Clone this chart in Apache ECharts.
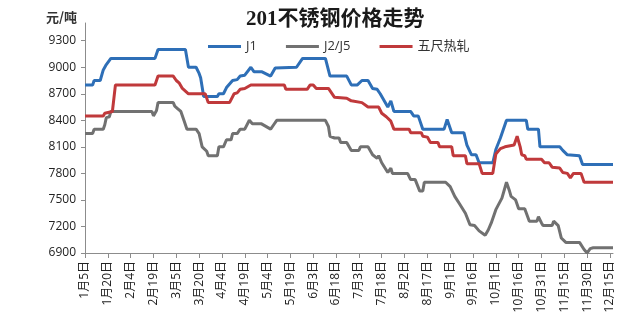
<!DOCTYPE html>
<html>
<head>
<meta charset="utf-8">
<script src="https://cdn.jsdelivr.net/npm/echarts@6/dist/echarts.min.js"></script>
<style>
  html, body { margin: 0; padding: 0; background: #fff; }
  #chart { width: 640px; height: 336px; }
</style>
</head>
<body>
<div id="chart"></div>
<script>
// x values are days counted from 1月5日 (leap year); ticks every 15 days
const tickLabels = ['1月5日', '1月20日', '2月4日', '2月19日', '3月5日', '3月20日', '4月4日', '4月19日',
  '5月4日', '5月19日', '6月3日', '6月18日', '7月3日', '7月18日', '8月2日', '8月17日',
  '9月1日', '9月16日', '10月1日', '10月16日', '10月31日', '11月15日', '11月30日', '12月15日'];
const yTicks = [6900, 7200, 7500, 7800, 8100, 8400, 8700, 9000, 9300];

// [day, 元/吨]
const j1 = [[0,8800],[5,8800],[6,8850],[10,8850],[12,8970],[14,9030],[17,9100],[46,9100],[48,9200],
  [66,9200],[68,9000],[73,9000],[75,8930],[76,8880],[78,8670],[87,8670],[88,8700],[91,8700],
  [93,8770],[97,8850],[100,8860],[102,8900],[105,8910],[109,9000],[111,8950],[116,8950],[122,8900],
  [125,8990],[126,9000],[139,9000],[143,9100],[158,9100],[161,8900],[172,8900],[175,8800],[179,8800],
  [182,8850],[186,8850],[189,8760],[192,8750],[194,8700],[199,8550],[201,8620],[203,8500],[214,8500],
  [216,8450],[219,8450],[222,8300],[236,8300],[238,8410],[241,8260],[249,8260],[251,8120],[254,8010],
  [257,8010],[259,7920],[268,7920],[270,8070],[273,8200],[277,8400],[290,8400],[291,8300],[298,8300],
  [299,8100],[312,8100],[314,8060],[317,8010],[325,8000],[327,7900],[347,7900]];

const j2j5 = [[0,8250],[5,8250],[6,8300],[12,8300],[13,8350],[14,8430],[16,8440],[17,8500],[44,8500],
  [45,8450],[47,8510],[48,8600],[58,8600],[59,8560],[61,8530],[63,8500],[65,8400],[67,8300],[73,8300],
  [75,8250],[77,8100],[80,8050],[81,8000],[87,8000],[88,8100],[91,8100],[93,8180],[96,8180],[97,8250],
  [100,8250],[102,8300],[105,8300],[108,8400],[110,8360],[116,8360],[122,8300],[124,8350],[126,8400],
  [158,8400],[160,8330],[161,8220],[164,8200],[167,8200],[168,8150],[172,8150],[175,8060],[180,8060],
  [181,8100],[186,8100],[189,8010],[192,7970],[193,8000],[195,7920],[199,7810],[201,7860],[202,7800],
  [212,7800],[214,7730],[217,7730],[220,7600],[222,7600],[223,7700],[237,7700],[240,7650],[243,7540],
  [246,7460],[250,7350],[253,7220],[256,7210],[259,7150],[263,7100],[265,7160],[267,7240],[270,7390],
  [274,7520],[277,7700],[279,7600],[280,7540],[283,7500],[285,7400],[289,7400],[292,7260],[297,7260],
  [298,7310],[300,7240],[301,7210],[307,7210],[308,7260],[311,7210],[313,7070],[316,7020],[325,7020],
  [328,6940],[330,6900],[332,6950],[334,6960],[347,6960]];

const hotRolled = [[0,8450],[12,8450],[13,8480],[14,8500],[18,8500],[20,8800],[46,8800],[48,8900],
  [58,8900],[60,8850],[62,8820],[64,8760],[68,8700],[79,8700],[81,8600],[95,8600],[98,8700],[100,8710],
  [102,8750],[105,8760],[109,8800],[131,8800],[132,8750],[146,8750],[148,8800],[150,8800],[152,8760],
  [160,8760],[164,8660],[172,8650],[175,8620],[182,8600],[186,8550],[193,8550],[195,8480],[198,8440],
  [201,8390],[203,8300],[213,8300],[214,8260],[221,8260],[222,8220],[225,8210],[227,8150],[232,8150],
  [233,8100],[241,8100],[242,8000],[250,8000],[251,7910],[259,7910],[261,7800],[268,7800],[270,8020],
  [273,8080],[276,8100],[282,8120],[284,8220],[286,8100],[287,8010],[289,8000],[290,7960],[300,7960],
  [302,7920],[305,7920],[307,7870],[312,7860],[314,7810],[317,7800],[319,7750],[321,7800],[326,7800],
  [328,7700],[347,7700]];

const chart = echarts.init(document.getElementById('chart'), null, { renderer: 'canvas' });
const axisColor = '#8c8c8c';
const labelFont = "'Open Sans', 'Noto Sans CJK SC', sans-serif";

chart.setOption({
  animation: false,
  backgroundColor: '#ffffff',
  title: [
    {
      text: '201不锈钢价格走势',
      left: 241,
      top: 4,
      textStyle: { fontSize: 21, fontWeight: 'bold', color: '#1a1a1a',
        fontFamily: "'Liberation Serif', 'Noto Sans CJK SC', serif" }
    },
    {
      text: '元/吨',
      left: 41,
      top: 6,
      textStyle: { fontSize: 13, fontWeight: 'bold', color: '#333', fontFamily: "'Noto Sans CJK SC', sans-serif" }
    }
  ],
  legend: {
    top: 35,
    left: 203,
    itemGap: 29,
    itemWidth: 33,
    itemHeight: 3,
    icon: 'rect',
    textStyle: { fontSize: 13, color: '#333', fontFamily: labelFont },
    data: ['J1', 'J2/J5', '五尺热轧']
  },
  grid: { left: 85, right: 27, top: 23, bottom: 83 },
  xAxis: {
    type: 'value',
    min: 0,
    max: 347,
    interval: 15,
    splitLine: { show: false },
    axisLine: { lineStyle: { color: axisColor, width: 1 } },
    axisTick: { show: true, length: 5, lineStyle: { color: axisColor },
      customValues: tickLabels.map((_, i) => i * 15) },
    axisLabel: {
      rotate: 90,
      margin: 8,
      fontSize: 12,
      color: '#222',
      fontFamily: labelFont,
      customValues: tickLabels.map((_, i) => i * 15),
      formatter: v => tickLabels[Math.round(v / 15)] || ''
    }
  },
  yAxis: {
    type: 'value',
    min: 6900,
    max: 9500,
    interval: 300,
    splitLine: { show: false },
    axisLine: { show: true, lineStyle: { color: axisColor, width: 1 } },
    axisTick: { show: true, length: 4, lineStyle: { color: axisColor }, customValues: yTicks },
    axisLabel: { fontSize: 12, color: '#222', margin: 9, fontFamily: labelFont, customValues: yTicks,
      formatter: v => String(v) }
  },
  series: [
    { name: 'J1', type: 'line', data: j1, showSymbol: false, color: '#2e6fb7',
      lineStyle: { width: 3, color: '#2e6fb7' } },
    { name: 'J2/J5', type: 'line', data: j2j5, showSymbol: false, color: '#717171',
      lineStyle: { width: 3, color: '#717171' } },
    { name: '五尺热轧', type: 'line', data: hotRolled, showSymbol: false, color: '#c0393b',
      lineStyle: { width: 3, color: '#c0393b' } }
  ]
});
</script>
</body>
</html>
